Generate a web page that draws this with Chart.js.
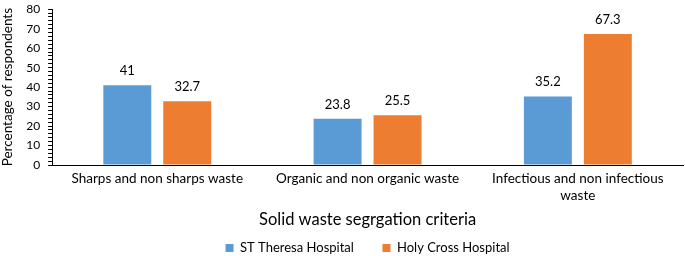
<!DOCTYPE html>
<html>
<head>
<meta charset="utf-8">
<script src="https://cdn.jsdelivr.net/npm/chart.js@4/dist/chart.umd.min.js"></script>
<style>
  html, body { margin: 0; padding: 0; background: #fff; }
  #wrap { width: 685px; height: 256px; }
</style>
</head>
<body>
<div id="wrap"><canvas id="grafico"></canvas></div>
<script>
// datos
const categorias = [
    'Sharps and non sharps waste',
    'Organic and non organic waste',
    ['Infectious and non infectious', 'waste']
];
const stTheresa = [41, 23.8, 35.2];
const holyCross = [32.7, 25.5, 67.3];
const etiquetasSerie = ['ST Theresa Hospital', 'Holy Cross Hospital'];

const fuente = 'Lato, "Open Sans", sans-serif';

// etiquetas encima de las barras
const etiquetasBarras = {
    id: 'etiquetasBarras',
    afterDatasetsDraw(chart) {
        const ctx = chart.ctx;
        ctx.save();
        ctx.font = '13px ' + fuente;
        ctx.fillStyle = '#000';
        ctx.textAlign = 'center';
        ctx.textBaseline = 'alphabetic';
        chart.data.datasets.forEach((ds, i) => {
            chart.getDatasetMeta(i).data.forEach((bar, j) => {
                ctx.fillText(String(ds.data[j]), bar.x, bar.y - 10);
            });
        });
        ctx.restore();
    }
};

// leyenda centrada sobre el area del grafico y pegada abajo
const ajustarLeyenda = {
    id: 'ajustarLeyenda',
    afterLayout(chart) {
        const lg = chart.legend;
        const ca = chart.chartArea;
        const dx = (ca.left + ca.right) / 2 - (lg.left + lg.right) / 2;
        const centroTexto = lg.top + 2 + 6.5;
        const dy = (chart.height - 8) - centroTexto;
        lg.left += dx;
        lg.right += dx;
        lg.top += dy;
        lg.bottom += dy;
    }
};

const ctx = document.getElementById('grafico').getContext('2d');
new Chart(ctx, {
    type: 'bar',
    data: {
        labels: categorias,
        datasets: [
            {
                label: etiquetasSerie[0],
                data: stTheresa,
                backgroundColor: '#5B9BD5',
                barPercentage: 0.8,
                categoryPercentage: 0.57
            },
            {
                label: etiquetasSerie[1],
                data: holyCross,
                backgroundColor: '#ED7D31',
                barPercentage: 0.8,
                categoryPercentage: 0.57
            }
        ]
    },
    options: {
        responsive: true,
        maintainAspectRatio: false,
        animation: false,
        layout: { padding: { top: -3, right: 2, left: 0, bottom: 0 } },
        scales: {
            x: {
                grid: { display: false, drawTicks: false },
                border: { color: '#000', width: 1 },
                ticks: {
                    color: '#000',
                    font: { family: fuente, size: 13.5, lineHeight: 1.25 },
                    padding: 5,
                    maxRotation: 0
                },
                title: {
                    display: true,
                    text: 'Solid waste segrgation criteria',
                    color: '#000',
                    font: { family: fuente, size: 16.5 },
                    padding: { top: 1.4, bottom: 1 }
                }
            },
            y: {
                min: 0,
                max: 80,
                grid: {
                    drawOnChartArea: false,
                    tickLength: 4,
                    tickColor: '#000'
                },
                border: { color: '#000', width: 1 },
                ticks: {
                    stepSize: 2,
                    autoSkip: false,
                    color: '#000',
                    font: { family: fuente, size: 12, lineHeight: 0.2 },
                    padding: 8,
                    callback: function(v) { return v % 10 === 0 ? v : ''; }
                },
                title: {
                    display: true,
                    text: 'Percentage of respondents',
                    color: '#000',
                    font: { family: fuente, size: 13.5 },
                    padding: { top: 0, bottom: 2 }
                }
            }
        },
        plugins: {
            legend: {
                position: 'bottom',
                labels: {
                    color: '#000',
                    font: { family: fuente, size: 13, lineHeight: 1 },
                    boxWidth: 8,
                    boxHeight: 8,
                    padding: 2,
                    generateLabels: function(chart) {
                        const items = Chart.defaults.plugins.legend.labels.generateLabels(chart);
                        items[0].text = items[0].text + '        ';
                        return items;
                    }
                }
            },
            tooltip: { enabled: false }
        }
    },
    plugins: [etiquetasBarras, ajustarLeyenda]
});
</script>
</body>
</html>
